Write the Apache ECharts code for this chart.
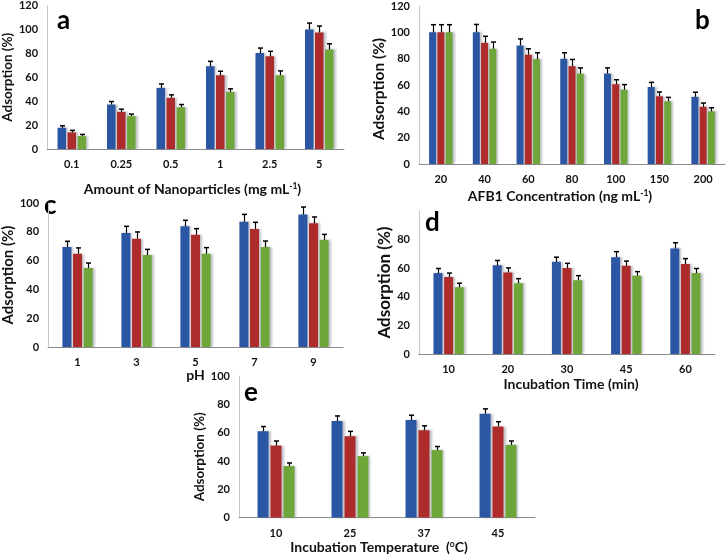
<!DOCTYPE html>
<html><head><meta charset="utf-8">
<script src="https://cdn.jsdelivr.net/npm/echarts@6/dist/echarts.min.js"></script>
<style>html,body{margin:0;padding:0;background:#fff}#c{width:726px;height:555px}</style>
</head><body><div id="c"></div>
<script>
// ---- data ----
const catA = ['0.1','0.25','0.5','1','2.5','5'];
const aBlue = [17.8,37.2,51.1,69.2,80.3,100];
const aRed = [13.9,31.1,42.8,61.7,77.5,97.5];
const aGreen = [10.8,27.5,35,47.8,61.7,83.3];
const aBlueErr = [1.6,2.5,3.3,4.1,4.1,5.3];
const aRedErr = [1.7,2.2,2.5,3.3,4.2,5.3];
const aGreenErr = [1.4,1.7,2.2,2.5,3.6,4.7];

const catB = ['20','40','60','80','100','150','200'];
const bBlue = [100,100,90,79.9,68.7,58.5,51];
const bRed = [100,92,83,74.3,60.6,51.4,43.5];
const bGreen = [100,87.5,79.6,68.7,56.5,47.6,40];
const bBlueErr = [5.8,6,5,4.6,4.3,3.5,3.5];
const bRedErr = [5.8,5,4.5,5.1,3.4,3.3,2.8];
const bGreenErr = [5.8,5.1,4.9,4.3,3.8,3,2.7];

const catC = ['1','3','5','7','9'];
const cBlue = [69.4,79.2,83.8,87,92];
const cRed = [64.8,75.2,78,82,85.9];
const cGreen = [54.9,63.9,64.8,69.4,74.5];
const cBlueErr = [4,4.6,4.2,5.1,5.2];
const cRedErr = [4,4.7,4.2,4.6,4.4];
const cGreenErr = [3.4,3.9,4.2,4.2,3.7];

const catD = ['10','20','30','45','60'];
const dBlue = [56.6,62,64.5,67.7,73.8];
const dRed = [53.8,57,60.2,61.7,63];
const dGreen = [46.7,49.5,51.6,54.8,56.6];
const dBlueErr = [3.2,3.4,3.2,3.9,4];
const dRedErr = [2.8,3.2,3.2,3.3,3.7];
const dGreenErr = [2.8,3.2,3.2,2.8,3.2];

const catE = ['10','25','37','45'];
const eBlue = [60.9,68.2,68.9,73.4];
const eRed = [50.9,57.5,61.6,64.3];
const eGreen = [36.4,43.4,47.7,51.4];
const eBlueErr = [3.4,3.6,3.4,3.4];
const eRedErr = [3.2,3.4,3.2,3.4];
const eGreenErr = [2.2,2.3,2.5,2.7];

// ---- styling ----
const COLORS = ['#2A56A3','#AD2B2B','#6FA63A'];
const FONT = 'Lato, "Open Sans", sans-serif';

const panels = [
  {cats:catA, vals:[aBlue,aRed,aGreen], errs:[aBlueErr,aRedErr,aGreenErr],
   grid:{left:43,right:382,top:5,height:144}, max:120, interval:20, bw:8.5,
   xname:'{t|Amount of Nanoparticles (mg mL}{s|-1}{t|)}', xgap:33, xpad:[0,6,0,0], yfs:13.5, ygap:26, ypad:[0,0,0,0],
   letter:'a', lx:65, ly:25},
  {cats:catB, vals:[bBlue,bRed,bGreen], errs:[bBlueErr,bRedErr,bGreenErr],
   grid:{left:419,right:1,top:6,height:158}, max:120, interval:20, bw:7,
   xname:'{t|AFB1 Concentration (ng mL}{s|-1}{t|)}', xgap:25, xpad:[0,24,0,0], yfs:15.5, ygap:31, ypad:[0,8,0,0],
   letter:'b', lx:703, ly:25},
  {cats:catC, vals:[cBlue,cRed,cGreen], errs:[cBlueErr,cRedErr,cGreenErr],
   grid:{left:41,right:383,top:203,height:144}, max:100, interval:20, bw:9,
   xname:'{t|pH}', xgap:17, xpad:[0,0,0,0], yfs:15, ygap:26, ypad:[0,0,0,0],
   letter:'c', lx:52, ly:210},
  {cats:catD, vals:[dBlue,dRed,dGreen], errs:[dBlueErr,dRedErr,dGreenErr],
   grid:{left:419,right:11,top:211,height:143}, max:100, interval:20, bw:9, hideMax:true,
   xname:'{t|Incubation Time (min)}', xgap:23, xpad:[0,0,0,8], yfs:17, ygap:22, ypad:[0,0,0,0],
   letter:'d', lx:433, ly:227},
  {cats:catE, vals:[eBlue,eRed,eGreen], errs:[eBlueErr,eRedErr,eGreenErr],
   grid:{left:239,right:191,top:376,height:147}, max:100, interval:20, bw:11,
   xname:'{t|Incubation Temperature  (}{s|o}{t|C)}', xgap:21, xpad:[0,16,0,0], yfs:13.5, ygap:27, ypad:[0,20,0,0],
   letter:'e', lx:252, ly:397}
];

const GAPFRAC = 0.18;
const option = {animation:false, backgroundColor:'#fff', grid:[], xAxis:[], yAxis:[], series:[], graphic:[]};

panels.forEach((p, gi) => {
  option.grid.push(p.grid);
  option.xAxis.push({
    type:'category', gridIndex:gi, data:p.cats,
    axisLine:{lineStyle:{color:'#8c8c8c', width:1}}, axisTick:{show:false},
    axisLabel:{color:'#111', fontFamily:FONT, fontWeight:'bold', fontSize:11, margin:10},
    name:p.xname, nameLocation:'middle', nameGap:p.xgap,
    nameTextStyle:{padding:p.xpad, rich:{
      t:{fontFamily:FONT, fontWeight:'bold', fontSize:14, color:'#111'},
      s:{fontFamily:FONT, fontWeight:'bold', fontSize:8.5, color:'#111', verticalAlign:'top', padding:[0,0,6,0]}
    }}
  });
  option.yAxis.push({
    type:'value', gridIndex:gi, min:0, max:p.max, interval:p.interval,
    axisLine:{show:true, lineStyle:{color:'#c8c8c8', width:1}}, axisTick:{show:false},
    splitLine:{show:false},
    axisLabel:{color:'#111', fontFamily:FONT, fontWeight:'bold', fontSize:11, margin:9, showMaxLabel:!p.hideMax},
    name:'Adsorption (%)', nameLocation:'middle', nameGap:p.ygap, nameRotate:90,
    nameTextStyle:{fontFamily:FONT, fontWeight:'bold', fontSize:p.yfs, color:'#111', padding:p.ypad}
  });
  p.vals.forEach((v, si) => {
    option.series.push({
      type:'bar', xAxisIndex:gi, yAxisIndex:gi, data:v, barWidth:p.bw, barGap:(GAPFRAC*100)+'%',
      itemStyle:{color:COLORS[si], shadowColor:'rgba(120,120,140,0.45)', shadowBlur:2, shadowOffsetX:2, shadowOffsetY:0},
      z:2
    });
    const errData = v.map((val, i) => [i, val, p.errs[si][i]]);
    const bw = p.bw;
    option.series.push({
      type:'custom', xAxisIndex:gi, yAxisIndex:gi, data:errData, z:5,
      renderItem:(params, api) => {
        const idx = api.value(0), val = api.value(1), e = api.value(2);
        const base = api.coord([idx, val]);
        const top = api.coord([idx, val + e]);
        const off = (si - 1) * bw * (1 + GAPFRAC);
        const x = Math.round(base[0] + off) + 0.5;
        return {type:'group', children:[
          {type:'line', shape:{x1:x, y1:base[1], x2:x, y2:top[1]}, style:{stroke:'#000', lineWidth:1.2}},
          {type:'line', shape:{x1:x-2.5, y1:top[1], x2:x+2.5, y2:top[1]}, style:{stroke:'#000', lineWidth:1.5}}
        ]};
      }
    });
  });
  option.graphic.push({
    type:'text', left:p.lx - 8, top:p.ly - 17,
    style:{text:p.letter, font:'bold 26px ' + FONT, fill:'#000'}
  });
});

const chart = echarts.init(document.getElementById('c'), null, {renderer:'canvas'});
chart.setOption(option);
</script></body></html>
